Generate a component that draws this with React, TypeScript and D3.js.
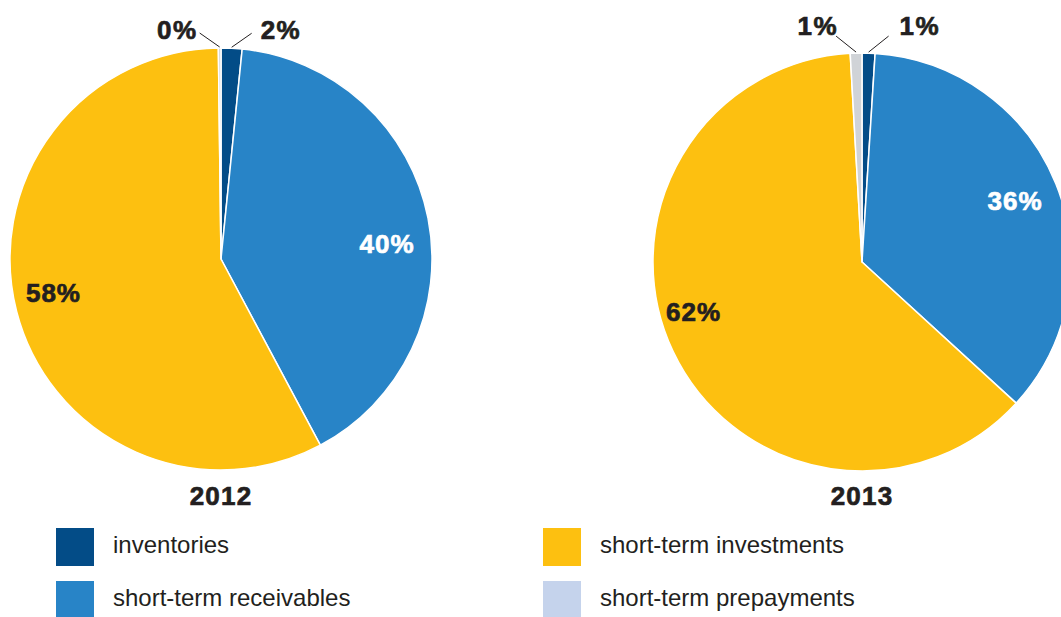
import React from "react";
import * as d3 from "d3";

const categories = ["inventories", "short-term receivables", "short-term investments", "short-term prepayments"];
const years = ["2012", "2013"];
const values2012 = [1.6, 40.6, 57.6, 0.2];
const values2013 = [1.0, 35.8, 62.3, 0.9];
const labels2012 = ["2%", "40%", "58%", "0%"];
const labels2013 = ["1%", "36%", "62%", "1%"];

const sliceColors = ["#034C87", "#2884C7", "#FDC010", "#D0D3D7"];
const legendColors = ["#034C87", "#2884C7", "#FDC010", "#C5D3EC"];
const labelColors = ["#231F20", "#FFFFFF", "#231F20", "#231F20"];
const DARK = "#231F20";
const FONT = "'Liberation Sans', Arial, Helvetica, sans-serif";
const YEAR_BASELINE = 505;

type PieSpec = {
  year: string;
  values: number[];
  labels: string[];
  cx: number;
  cy: number;
  r: number;
  angleAdj: number[]; // degrees
  radAdj: number[];
  outside: boolean[];
  leaderDy: number;
  textDy: number;
  gapLeft: number;
  gapRight: number;
};

const pies: PieSpec[] = [
  {
    year: years[0],
    values: values2012,
    labels: labels2012,
    cx: 221,
    cy: 259,
    r: 211,
    angleAdj: [0, 6, 3, 0],
    radAdj: [0, 0.79, 0.81, 0],
    outside: [true, false, false, true],
    leaderDy: -14,
    textDy: 6,
    gapLeft: 2,
    gapRight: 9,
  },
  {
    year: years[1],
    values: values2013,
    labels: labels2013,
    cx: 862,
    cy: 262,
    r: 209,
    angleAdj: [0, 0, 9, 0],
    radAdj: [0, 0.79, 0.84, 0],
    outside: [true, false, false, true],
    leaderDy: -16,
    textDy: -1,
    gapLeft: -2,
    gapRight: 11,
  },
];

function Pie({ spec }: { spec: PieSpec }) {
  const pieGen = d3.pie<number>().sort(null).value((d) => d);
  const arcs = pieGen(spec.values);
  const arcGen = d3.arc<d3.PieArcDatum<number>>().innerRadius(0).outerRadius(spec.r);
  return (
    <g transform={`translate(${spec.cx},${spec.cy})`}>
      {arcs.map((a, i) => (
        <path key={i} d={arcGen(a) || ""} fill={sliceColors[i]} stroke="#FFFFFF" strokeWidth={1.5} strokeLinejoin="round" />
      ))}
      {arcs.map((a, i) => {
        const mid = (a.startAngle + a.endAngle) / 2;
        if (spec.outside[i]) {
          const sx = Math.sin(mid) * (spec.r + 1);
          const sy = -Math.cos(mid) * (spec.r + 1);
          const dir = Math.sin(mid) >= 0 ? 1 : -1;
          const ex = sx + dir * 20;
          const ey = sy + spec.leaderDy;
          const gap = dir > 0 ? spec.gapRight : spec.gapLeft;
          return (
            <g key={"o" + i}>
              <line x1={sx} y1={sy} x2={ex} y2={ey} stroke={DARK} strokeWidth={1} />
              <text
                x={ex + dir * gap}
                y={ey + spec.textDy}
                textAnchor={dir > 0 ? "start" : "end"}
                fontFamily={FONT}
                fontWeight="bold"
                fontSize={26}
                fill={DARK}
                stroke={DARK}
                strokeWidth={0.7}
                letterSpacing={1.5}
              >
                {spec.labels[i]}
              </text>
            </g>
          );
        }
        const ang = mid + (spec.angleAdj[i] * Math.PI) / 180;
        const rr = spec.r * spec.radAdj[i];
        const x = Math.sin(ang) * rr;
        const y = -Math.cos(ang) * rr;
        return (
          <text
            key={"i" + i}
            x={x}
            y={y}
            dy="0.36em"
            textAnchor="middle"
            fontFamily={FONT}
            fontWeight="bold"
            fontSize={26}
            fill={labelColors[i]}
            stroke={labelColors[i]}
            strokeWidth={0.7}
            letterSpacing={1}
          >
            {spec.labels[i]}
          </text>
        );
      })}
      <text
        x={0}
        y={YEAR_BASELINE - spec.cy}
        textAnchor="middle"
        fontFamily={FONT}
        fontWeight="bold"
        fontSize={26}
        fill={DARK}
        stroke={DARK}
        strokeWidth={0.7}
        letterSpacing={1.2}
      >
        {spec.year}
      </text>
    </g>
  );
}

const legendCols = [56, 543];
const legendRows = [528, 581];

export default function App() {
  return (
    <svg
      width={1061}
      height={617}
      style={{ position: "absolute", left: 0, top: 0, background: "#FFFFFF" }}
    >
      <rect x={0} y={0} width={1061} height={617} fill="#FFFFFF" />
      {pies.map((p) => (
        <Pie key={p.year} spec={p} />
      ))}
      {categories.map((c, i) => {
        const col = Math.floor(i / 2);
        const row = i % 2;
        const x = legendCols[col];
        const y = legendRows[row];
        return (
          <g key={c}>
            <rect x={x} y={y} width={38} height={38} fill={legendColors[i]} />
            <text x={x + 57} y={y + 25} fontFamily={FONT} fontSize={24} fill={DARK}>
              {c}
            </text>
          </g>
        );
      })}
    </svg>
  );
}
